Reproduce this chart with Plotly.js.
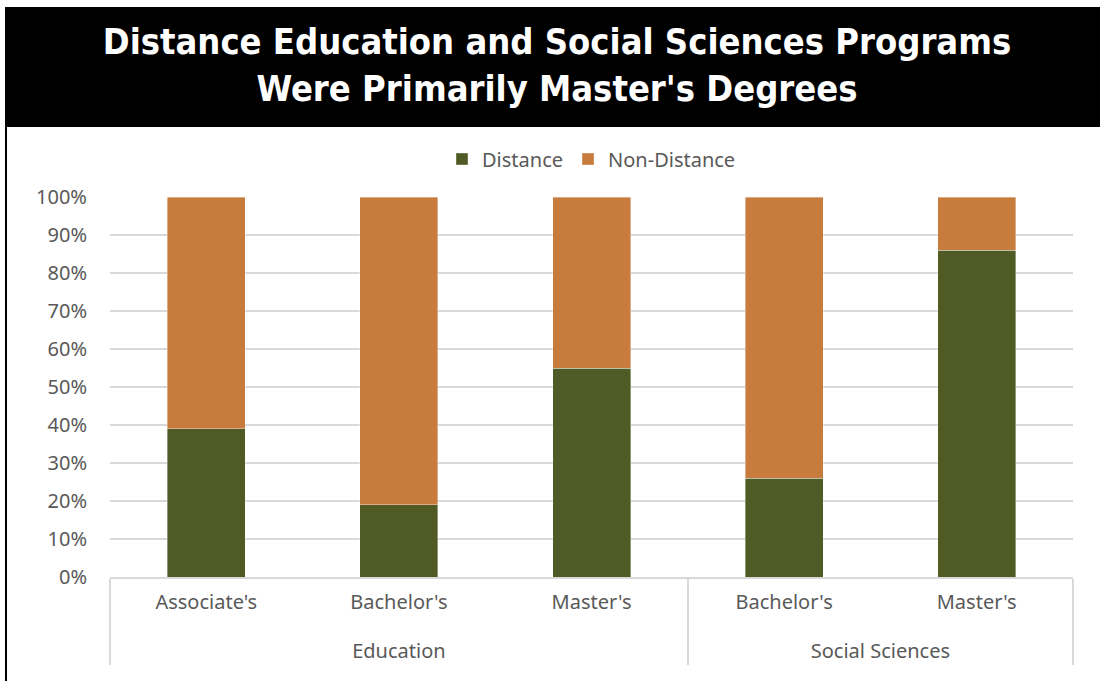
<!DOCTYPE html>
<html>
<head>
<meta charset="utf-8">
<script src="https://cdn.plot.ly/plotly-3.0.1.min.js"></script>
<style>html,body{margin:0;padding:0;background:#fff;}#chart{width:1100px;height:681px;}</style>
</head>
<body>
<div id="chart"></div>
<script>
// Data
var fields = ['Education', 'Education', 'Education', 'Social Sciences', 'Social Sciences'];
var degrees = ["Associate's", "Bachelor's", "Master's", "Bachelor's", "Master's"];
var distance = [0.39, 0.19, 0.55, 0.26, 0.86];
var nonDistance = [0.61, 0.81, 0.45, 0.74, 0.14];
var yTickVals = [0, 0.1, 0.2, 0.3, 0.4, 0.5, 0.6, 0.7, 0.8, 0.9, 1.0];

var gray = '#595959';
var gridGray = '#d9d9d9';
var font = 'Noto Sans, Open Sans, sans-serif';
var fs = 20;

// inner labels get an empty second line so the outer level sits lower, as in the reference
var degreeLabels = degrees.map(function (d) { return d + '<br>\u00a0'; });

var traces = [
  {
    type: 'bar', name: 'Distance',
    x: [fields, degreeLabels], y: distance,
    marker: {color: '#4f5a25', line: {color: 'rgba(255,255,255,0.5)', width: 0.75}},
    hoverinfo: 'y+name'
  },
  {
    type: 'bar', name: 'Non-Distance',
    x: [fields, degreeLabels], y: nonDistance,
    marker: {color: '#c77b3c', line: {color: 'rgba(255,255,255,0.5)', width: 0.75}},
    hoverinfo: 'y+name'
  }
];

// plot area pixel geometry: x 110..1073, y 197..577
var L = 110, R = 1073, T = 197, B = 577;
function px(x) { return (x - L) / (R - L); }
function py(y) { return (B - y) / (B - T); }

var layout = {
  width: 1100, height: 681,
  margin: {l: L, r: 1100 - R, t: T, b: 681 - B, pad: 0},
  paper_bgcolor: '#ffffff', plot_bgcolor: '#ffffff',
  barmode: 'stack', bargap: 0.595,
  font: {family: font, color: gray, size: fs},
  title: {
    text: "Distance Education and Social Sciences Programs<br>Were Primarily Master's Degrees",
    font: {family: 'DejaVu Sans Condensed, sans-serif', size: 36, color: '#ffffff', weight: 'bold'},
    x: 557 / 1100, xref: 'container', xanchor: 'center',
    y: 1 - 54 / 681, yref: 'container', yanchor: 'middle'
  },
  showlegend: true,
  legend: {
    orientation: 'h', x: 0.5, xanchor: 'center', y: py(159), yanchor: 'middle',
    traceorder: 'normal', font: {family: font, size: fs, color: gray},
    itemwidth: 30, bgcolor: 'rgba(0,0,0,0)'
  },
  xaxis: {
    type: 'multicategory',
    showgrid: false, showline: true, linecolor: gridGray, linewidth: 2,
    showdividers: true, dividercolor: gridGray, dividerwidth: 2,
    tickfont: {family: font, size: fs, color: gray},
    ticks: '', ticklabelstandoff: 6, fixedrange: true
  },
  yaxis: {
    range: [0, 1], tickvals: yTickVals, tickformat: '.0%',
    showgrid: true, gridcolor: gridGray, gridwidth: 2,
    zeroline: false, showline: false,
    ticks: '', ticklabelstandoff: 22,
    tickfont: {family: font, size: fs, color: gray},
    fixedrange: true
  },
  shapes: [
    {type: 'rect', xref: 'paper', yref: 'paper', x0: px(5), x1: px(1100), y0: py(127), y1: py(7),
     fillcolor: '#000000', line: {width: 0}, layer: 'below'},
    {type: 'line', xref: 'paper', yref: 'paper', x0: px(6), x1: px(6), y0: py(127), y1: py(681),
     line: {color: '#000000', width: 2}, layer: 'above'}
  ]
};

Plotly.newPlot('chart', traces, layout, {displayModeBar: false, staticPlot: true});
</script>
</body>
</html>
